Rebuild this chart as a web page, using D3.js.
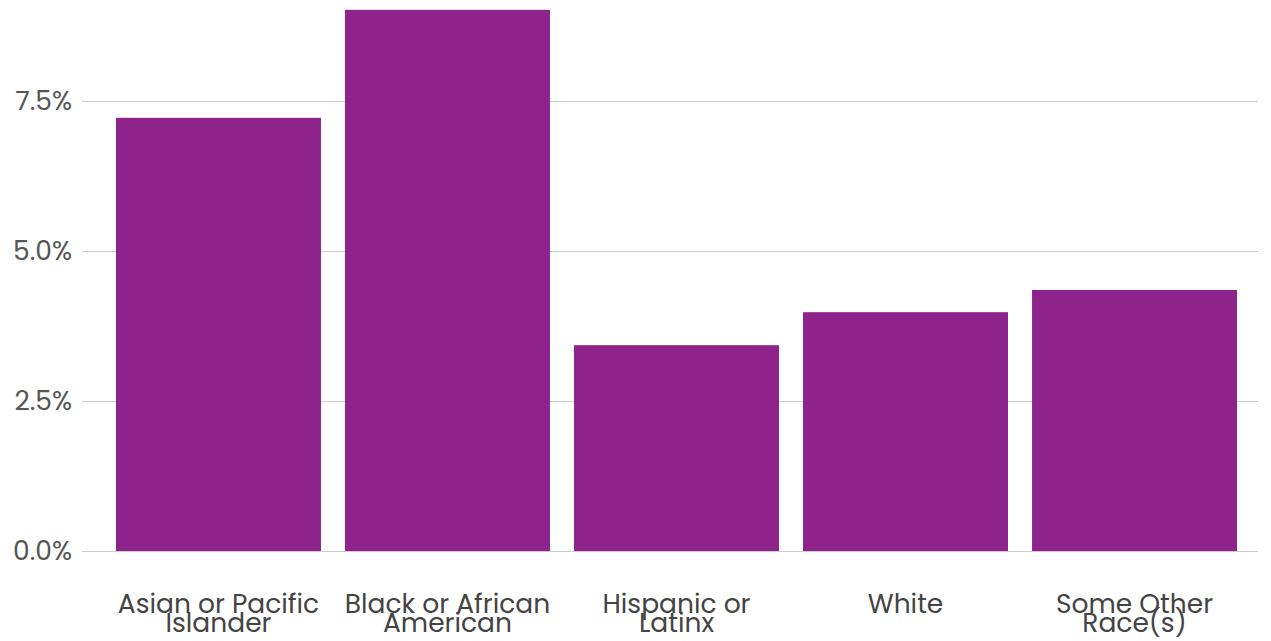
<!DOCTYPE html>
<html><head><meta charset="utf-8">
<script src="https://cdn.jsdelivr.net/npm/d3@7"></script>
<style>body{margin:0;background:#fff;}svg{display:block;}</style>
</head><body>
<svg id="chart" width="1271" height="641"></svg>
<script>
const categories = [["Asian or Pacific","Islander"],["Black or African","American"],["Hispanic or","Latinx"],["White"],["Some Other","Race(s)"]];
const values = [7.22, 9.02, 3.43, 3.98, 4.35];
const tickValues = [0, 2.5, 5, 7.5];
const tickLabels = ["0.0%","2.5%","5.0%","7.5%"];

const svg = d3.select("#chart");
const font = "Poppins, 'Open Sans', sans-serif";
const keys = categories.map(c => c.join(" "));
const x = d3.scaleBand().domain(keys).range([116, 1237]).paddingInner(0.105).paddingOuter(0);
const y = d3.scaleLinear().domain([0, 2.5]).range([551, 401]);

const yAxis = d3.axisLeft(y).tickValues(tickValues).tickFormat((d,i)=>tickLabels[i]).tickSize(-(1258-82)).tickPadding(10);
const gy = svg.append("g").attr("transform","translate(82,0)").call(yAxis);
gy.select(".domain").remove();
gy.selectAll(".tick line").attr("stroke","#cccccc").attr("stroke-width",1.2);
gy.selectAll(".tick text").attr("fill","#555").style("font-family",font).style("font-size","26.5px").style("font-weight",400);

svg.append("g").selectAll("rect").data(values).join("rect")
  .attr("x",(d,i)=>x(keys[i])).attr("width",x.bandwidth())
  .attr("y",d=>y(d)).attr("height",d=>y(0)-y(d)).attr("fill","#8E248B");

const lab = svg.append("g").selectAll("text").data(categories).join("text")
  .attr("x",(d,i)=>x(keys[i])+x.bandwidth()/2).attr("y",613)
  .attr("text-anchor","middle").attr("fill","#444").style("font-family",font).style("font-size","26.5px").style("font-weight",400);
lab.each(function(d){
  const t = d3.select(this);
  d.forEach((line,j)=>t.append("tspan").attr("x",t.attr("x")).attr("dy", j===0?0:19).text(line));
});
</script>
</body></html>
